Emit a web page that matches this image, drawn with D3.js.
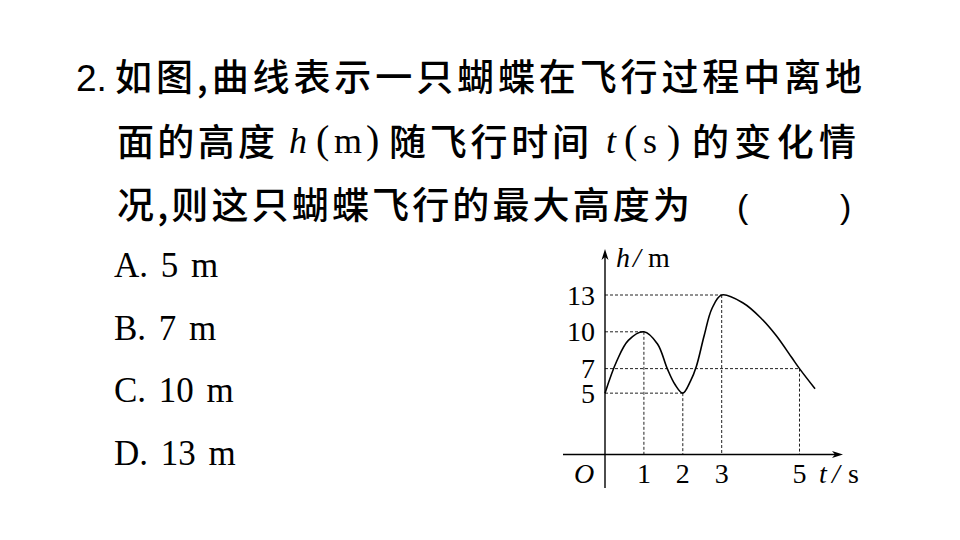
<!DOCTYPE html>
<html>
<head>
<meta charset="utf-8">
<script src="https://cdn.jsdelivr.net/npm/d3@7"></script>
<style>
  body { margin: 0; background: #fff; }
  svg { display: block; }
</style>
</head>
<body>
<div id="chart"></div>
<script>
// datos
const tTicks = [1, 2, 3, 5];
const hTicks = [5, 7, 10, 13];
const keyT = [1, 2, 3, 5];
const keyH = [10, 5, 13, 7];
const curveT = [0, 0.3, 0.6, 1, 1.35, 1.6, 1.8, 2, 2.2, 2.35, 2.55, 2.75, 3, 3.55, 4, 4.4, 4.8, 5, 5.4];
const curveH = [5, 7.6, 9.3, 10, 9.0, 7.0, 5.7, 5, 6.0, 7.2, 9.7, 11.9, 13, 12.35, 11.15, 9.7, 7.9, 7, 5.36];
const optionLetters = ["A", "B", "C", "D"];
const optionValues = [5, 7, 10, 13];

const width = 960;
const height = 540;
const cjk = "'Noto Sans CJK SC', sans-serif";
const serif = "'Liberation Serif', 'DejaVu Serif', serif";
const sans = "'Liberation Sans', Arial, sans-serif";

const svg = d3.select("#chart")
  .append("svg")
  .attr("width", width)
  .attr("height", height)
  .attr("viewBox", [0, 0, width, height]);

svg.append("rect").attr("width", width).attr("height", height).attr("fill", "#fff");

// helper para poner un trozo de texto
function put(str, x, y, font, size, opts = {}) {
  const t = svg.append("text")
    .attr("x", x)
    .attr("y", y)
    .attr("font-family", font)
    .attr("font-size", size)
    .attr("fill", "#000")
    .text(str);
  if (opts.italic) t.attr("font-style", "italic");
  if (opts.weight) t.attr("font-weight", opts.weight);
  if (opts.len) t.attr("textLength", opts.len).attr("lengthAdjust", "spacing");
  if (opts.anchor) t.attr("text-anchor", opts.anchor);
  return t;
}

// 1. enunciado
const cj = (s, x, y, len) => put(s, x, y, cjk, 37, { len: len, weight: 500 });
put("2.", 76, 91, sans, 37);
cj("如图,曲线表示一只蝴蝶在飞行过程中离地", 115, 91, 747);

cj("面的高度", 117, 156, 158);
put("h", 289, 153, serif, 36, { italic: true });
put("(", 316, 153, serif, 40);
put("m", 334, 153, serif, 36);
put(")", 366, 153, serif, 40);
cj("随飞行时间", 389, 156, 200);
put("t", 606, 153, serif, 36, { italic: true });
put("(", 624, 153, serif, 40);
put("s", 643, 153, serif, 36);
put(")", 667, 153, serif, 40);
cj("的变化情", 692, 156, 164);

cj("况,则这只蝴蝶飞行的最大高度为", 117, 219, 573);
put("(", 737, 218, sans, 34);
put(")", 840, 218, sans, 34);

// 2. opciones
const optY = d3.scalePoint().domain(optionLetters).range([277, 465]);
optionLetters.forEach((l, i) => {
  put(`${l}. ${optionValues[i]} m`, 114, optY(l), serif, 35)
    .attr("word-spacing", 4);
});

// 3. grafica
const x = d3.scaleLinear().domain([0, 5]).range([605, 799.5]);
const y = d3.scaleLinear().domain([0, 13]).range([454.5, 295]);

const g = svg.append("g");

// lineas guia punteadas
keyT.forEach((t, i) => {
  const h = keyH[i];
  g.append("line")
    .attr("x1", x(0)).attr("x2", x(t))
    .attr("y1", y(h)).attr("y2", y(h))
    .attr("stroke", "#222").attr("stroke-width", 1)
    .attr("stroke-dasharray", "3,2");
  g.append("line")
    .attr("x1", x(t)).attr("x2", x(t))
    .attr("y1", y(h)).attr("y2", y(0))
    .attr("stroke", "#222").attr("stroke-width", 1)
    .attr("stroke-dasharray", "3,2");
});

// ejes
g.append("line")
  .attr("x1", 563).attr("x2", 838)
  .attr("y1", y(0)).attr("y2", y(0))
  .attr("stroke", "#000").attr("stroke-width", 1.4);
g.append("line")
  .attr("x1", x(0)).attr("x2", x(0))
  .attr("y1", 488).attr("y2", 255)
  .attr("stroke", "#000").attr("stroke-width", 1.4);

// flechas
g.append("path")
  .attr("d", `M${x(0)},249 L${x(0) - 3.5},260 L${x(0)},257 L${x(0) + 3.5},260 Z`)
  .attr("fill", "#000");
g.append("path")
  .attr("d", `M843,${y(0)} L832,${y(0) - 3.5} L835,${y(0)} L832,${y(0) + 3.5} Z`)
  .attr("fill", "#000");

// curva
const pts = curveT.map((t, i) => [t, curveH[i]]);
const line = d3.line()
  .x((d) => x(d[0]))
  .y((d) => y(d[1]))
  .curve(d3.curveCatmullRom.alpha(0.5));
g.append("path")
  .attr("d", line(pts))
  .attr("fill", "none")
  .attr("stroke", "#000")
  .attr("stroke-width", 1.6);

// etiquetas de ejes
hTicks.forEach((h) => {
  put(String(h), 595, y(h) + 9.5, serif, 28, { anchor: "end" });
});
tTicks.forEach((t) => {
  put(String(t), x(t), 483, serif, 28, { anchor: "middle" });
});
put("O", 574, 483, serif, 28, { italic: true });
put("h", 616, 267, serif, 28, { italic: true });
put("/", 633, 267, serif, 28, { italic: true });
put("m", 648, 267, serif, 28);
put("t", 819, 483, serif, 28, { italic: true });
put("/", 832, 483, serif, 28, { italic: true });
put("s", 848, 483, serif, 28);
</script>
</body>
</html>
